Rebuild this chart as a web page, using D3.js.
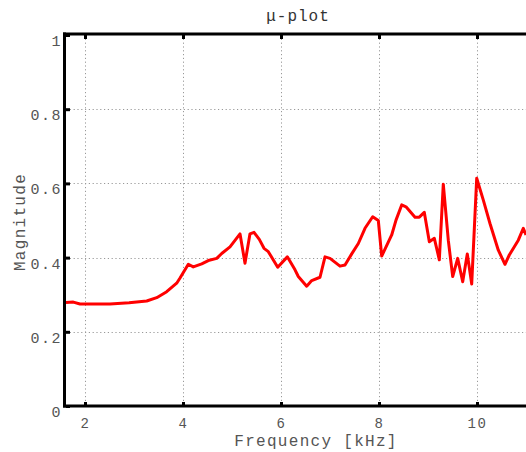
<!DOCTYPE html>
<html><head><meta charset="utf-8">
<script src="https://cdn.jsdelivr.net/npm/d3@7"></script>
<style>
html,body{margin:0;padding:0;background:#fff;}
svg{display:block;}
text{font-family:"Liberation Mono","DejaVu Sans Mono",monospace;}
</style></head>
<body>
<svg id="chart" width="526" height="452"></svg>
<script>
// ---- data ----
const freq = [1.612,1.761,1.898,2.0,2.51,2.9,3.259,3.463,3.667,3.871,3.939,4.108,4.21,4.382,4.516,4.688,4.79,4.959,5.163,5.265,5.367,5.449,5.557,5.653,5.741,5.933,6.129,6.286,6.353,6.524,6.627,6.796,6.898,7.0,7.204,7.306,7.443,7.578,7.714,7.871,7.986,8.055,8.259,8.347,8.463,8.551,8.735,8.822,8.924,9.027,9.129,9.231,9.312,9.414,9.504,9.606,9.708,9.802,9.892,9.994,10.129,10.265,10.435,10.571,10.659,10.843,10.945,11.0];
const magnitude = [0.279,0.280,0.275,0.275,0.275,0.278,0.283,0.292,0.308,0.331,0.345,0.382,0.375,0.383,0.392,0.398,0.411,0.429,0.464,0.385,0.464,0.468,0.449,0.425,0.416,0.374,0.402,0.367,0.349,0.323,0.338,0.347,0.402,0.398,0.377,0.380,0.410,0.438,0.479,0.510,0.500,0.404,0.461,0.501,0.542,0.537,0.509,0.509,0.522,0.443,0.452,0.394,0.598,0.447,0.349,0.398,0.335,0.410,0.329,0.614,0.555,0.492,0.420,0.382,0.407,0.447,0.479,0.461];
const xTicks = [2,4,6,8,10];
const yTicks = [0,0.2,0.4,0.6,0.8,1];
const yTickLabels = ["0","0.2","0.4","0.6","0.8","1"];
const xDomain = [1.612, 11.0];
const yDomain = [0, 1];
const title = "\u03bc-plot";
const xLabel = "Frequency [kHz]";
const yLabel = "Magnitude";

// ---- layout ----
const L = 66, R = 526, T = 35, B = 406;
const svg = d3.select("#chart");
const x = d3.scaleLinear().domain(xDomain).range([L, R]);
const y = d3.scaleLinear().domain(yDomain).range([B, T]);

// grid
const grid = svg.append("g").attr("stroke", "#999").attr("stroke-width", 1).attr("stroke-dasharray", "1.2,2.6");
grid.selectAll("line.v").data(xTicks).join("line")
  .attr("x1", d => x(d) + 0.5).attr("x2", d => x(d) + 0.5).attr("y1", T).attr("y2", B);
grid.selectAll("line.h").data(yTicks.filter(d => d > 0 && d < 1)).join("line")
  .attr("x1", L).attr("x2", R).attr("y1", d => Math.round(y(d)) + 0.5).attr("y2", d => Math.round(y(d)) + 0.5);

// curve
svg.append("clipPath").attr("id", "clip").append("rect").attr("x", L).attr("y", T).attr("width", R - L).attr("height", B - T);
const line = d3.line().x((d, i) => x(freq[i])).y(d => y(d));
svg.append("path").datum(magnitude).attr("clip-path", "url(#clip)")
  .attr("fill", "none").attr("stroke", "#ff0000").attr("stroke-width", 3)
  .attr("stroke-linejoin", "round").attr("d", line);

// axes
const xAxis = d3.axisBottom(x).tickValues(xTicks).tickSize(-4).tickPadding(12).tickFormat(d3.format("d"));
const gx = svg.append("g").attr("transform", `translate(0,${B})`).call(xAxis);
const yAxis = d3.axisLeft(y).tickValues(yTicks).tickSize(-4).tickPadding(5).tickFormat((d, i) => yTickLabels[i]);
const gy = svg.append("g").attr("transform", `translate(${L},0)`).call(yAxis);
const xTop = d3.axisTop(x).tickValues(xTicks).tickSize(-4).tickFormat("");
const gt = svg.append("g").attr("transform", `translate(0,${T})`).call(xTop);

[gx, gy, gt].forEach(g => {
  g.select(".domain").remove();
  g.selectAll(".tick line").attr("stroke", "#000").attr("stroke-width", 3);
  g.selectAll(".tick text").attr("fill", "#555").style("font-size", "15px").style("letter-spacing", "1.5px");
});
gx.selectAll(".tick text").style("font-size", "14px");
gy.selectAll(".tick text").attr("dy", "0.7em").attr("x", -4);

// frame lines
svg.append("line").attr("x1", L - 1.5).attr("x2", L - 1.5).attr("y1", T - 2.5).attr("y2", B + 1.5).attr("stroke", "#000").attr("stroke-width", 3);
svg.append("line").attr("x1", L - 3).attr("x2", R + 5).attr("y1", B).attr("y2", B).attr("stroke", "#000").attr("stroke-width", 3);
svg.append("line").attr("x1", L - 3).attr("x2", R + 5).attr("y1", T - 1).attr("y2", T - 1).attr("stroke", "#000").attr("stroke-width", 3);

// labels
svg.append("text").attr("x", 298).attr("y", 21).attr("text-anchor", "middle")
  .attr("fill", "#333").style("font-size", "16px").style("letter-spacing", "1px").text(title);
svg.append("text").attr("x", 316).attr("y", 446).attr("text-anchor", "middle")
  .attr("fill", "#555").style("font-size", "16px").style("letter-spacing", "1.3px").text(xLabel);
svg.append("text").attr("transform", "translate(25,222) rotate(-90)").attr("text-anchor", "middle")
  .attr("fill", "#555").style("font-size", "16px").style("letter-spacing", "1.3px").text(yLabel);
</script>
</body></html>
